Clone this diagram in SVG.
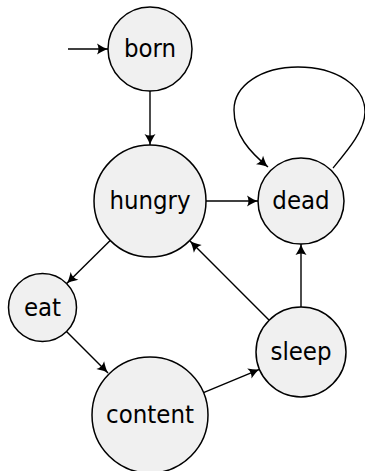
<svg xmlns="http://www.w3.org/2000/svg" width="365" height="471" viewBox="0 0 365 471">
<defs>
<style>
.node circle{fill:#f0f0f0;stroke:#000;stroke-width:1.5}
.node text{font-family:"DejaVu Sans Condensed","DejaVu Sans",sans-serif;font-size:25.5px;text-anchor:middle;fill:#000}
.edge{fill:none;stroke:#000;stroke-width:1.4;marker-end:url(#arr)}
</style>
<marker id="arr" markerUnits="userSpaceOnUse" markerWidth="16" markerHeight="16" viewBox="-13 -8 16 16" refX="0" refY="0" orient="auto">
<path d="M-11,-5.5 Q-4,-1 0,0 Q-4,1 -11,5.5 Q-8,0 -11,-5.5 Z" fill="#000"/>
</marker>
</defs>
<g id="connectors">
<path class="edge" d="M68,49 L108,49"/>
<path class="edge" d="M150,91 L150,145"/>
<path class="edge" d="M206,201 L258,201"/>
<path class="edge" d="M110.2,240.4 L66.7,283.6"/>
<path class="edge" d="M66.5,331.5 L108,373"/>
<path class="edge" d="M203.5,392.7 L259.5,369.3"/>
<path class="edge" d="M269.2,320.2 L190,241"/>
<path class="edge" d="M301,307 L301,244"/>
<path class="edge" d="M333,168 C348,150 365,130 365,112 C365,85 335,67 298,67 C262,67 234,85 234,110 C234,135 250,152 268,167"/>
</g>
<g id="born" class="node"><circle cx="150" cy="49" r="42"/><text x="150" y="57">born</text></g>
<g id="hungry" class="node"><circle cx="150" cy="201" r="56"/><text x="150" y="209">hungry</text></g>
<g id="dead" class="node"><circle cx="301" cy="201" r="43"/><text x="301" y="209">dead</text></g>
<g id="eat" class="node"><circle cx="42.5" cy="307.5" r="34"/><text x="42.5" y="315.5">eat</text></g>
<g id="sleep" class="node"><circle cx="301" cy="352" r="45"/><text x="301" y="360">sleep</text></g>
<g id="content" class="node"><circle cx="150" cy="415" r="58"/><text x="150" y="423">content</text></g>
</svg>
